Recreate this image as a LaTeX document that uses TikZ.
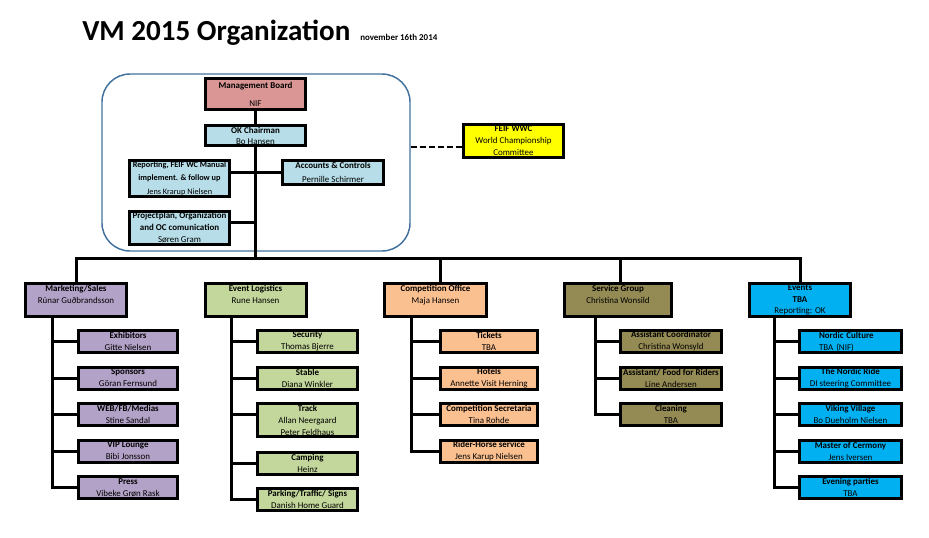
\documentclass[tikz,border=0pt]{standalone}
\usepackage{fontspec}
\setmainfont{Carlito}
\usetikzlibrary{backgrounds,calc}
\definecolor{mbred}{HTML}{D99694}
\definecolor{ltblue}{HTML}{B7DEE8}
\definecolor{mktc}{HTML}{B3A2C7}
\definecolor{evlc}{HTML}{C3D69B}
\definecolor{cmpc}{HTML}{FAC090}
\definecolor{srvc}{HTML}{948A54}
\definecolor{evtc}{HTML}{00B0F0}
\definecolor{grpline}{HTML}{41719C}
\definecolor{feifc}{HTML}{FFFF00}
\begin{document}
\begin{tikzpicture}[x=0.75pt,y=-0.75pt,
  bx/.style 2 args={draw=black, line width=2.25pt, inner sep=0pt, align=center,
    minimum width=#1*0.75pt, minimum height=#2*0.75pt,
    font=\fontsize{6.7}{9}\selectfont},
  conn/.style={draw=black, line width=2.25pt},
  dashconn/.style={draw=black, line width=1.5pt, dash pattern=on 4.5pt off 2.25pt},
  grpbox/.style={draw=grpline, line width=1.1pt, rounded corners=21pt, inner sep=0pt,
    minimum width=308*0.75pt, minimum height=177*0.75pt}]
\useasboundingbox (0,0) rectangle (929,537);

% title
\node[anchor=base west, inner sep=0pt, font=\fontsize{21.8}{26}\selectfont\bfseries] (title) at (82,40) {VM 2015 Organization};
\node[anchor=base west, inner sep=0pt, font=\fontsize{6.7}{8}\selectfont\bfseries] (date) at (360,40) {november 16th 2014};

% top group
\node[bx={100}{31}, fill=mbred, font=\fontsize{6.7}{13.5}\selectfont] (mb) at (255.5,94) {\textbf{Management Board}\\NIF};
\node[bx={100}{20}, fill=ltblue, font=\fontsize{6.7}{8.25}\selectfont] (ok) at (255.5,135.5) {\textbf{OK Chairman}\\Bo Hansen};
\node[bx={100}{36}, fill=ltblue, font=\fontsize{6.2}{10.1}\selectfont] (rep) at (179.5,178.5) {\textbf{Reporting, FEIF WC Manual}\\\textbf{implement. \& follow up}\\Jens Krarup Nielsen};
\node[bx={101}{24}, fill=ltblue, font=\fontsize{6.7}{10.5}\selectfont] (acc) at (333,172.5) {\textbf{Accounts \& Controls}\\Pernille Schirmer};
\node[bx={100}{33}, fill=ltblue] (proj) at (179.5,228) {\textbf{Projectplan, Organization}\\\textbf{and OC comunication}\\Søren Gram};
\node[bx={100}{33}, fill=feifc] (feif) at (513.5,141) {\textbf{FEIF WWC}\\World Championship\\Committee};

% heads
\node[bx={101}{33}, fill=mktc] (mkt) at (76,300) {\textbf{Marketing/Sales}\\Rúnar Guðbrandsson\\\mbox{}};
\node[bx={101}{33}, fill=evlc] (evl) at (255.5,300) {\textbf{Event Logistics}\\Rune Hansen\\\mbox{}};
\node[bx={102}{33}, fill=cmpc] (cmp) at (435.5,300) {\textbf{Competition Office}\\Maja Hansen\\\mbox{}};
\node[bx={107}{33}, fill=srvc] (srv) at (618,300) {\textbf{Service Group}\\Christina Wonsild\\\mbox{}};
\node[bx={101}{33}, fill=evtc, font=\fontsize{6.7}{8.6}\selectfont] (evt) at (800,300) {\textbf{Events}\\\textbf{TBA}\\Reporting: OK};

% marketing subs
\node[bx={99}{22}, fill=mktc] (m1) at (128,341.5) {\textbf{Exhibitors}\\Gitte Nielsen};
\node[bx={99}{22}, fill=mktc] (m2) at (128,378) {\textbf{Sponsors}\\Göran Fernsund};
\node[bx={99}{22}, fill=mktc] (m3) at (128,414.5) {\textbf{WEB/FB/Medias}\\Stine Sandal};
\node[bx={99}{22}, fill=mktc] (m4) at (128,451) {\textbf{VIP Lounge}\\Bibi Jonsson};
\node[bx={99}{22}, fill=mktc] (m5) at (128,487.5) {\textbf{Press}\\Vibeke Grøn Rask};

% event logistics subs
\node[bx={100}{22}, fill=evlc] (l1) at (307.5,341.5) {\textbf{Security}\\Thomas Bjerre};
\node[bx={100}{22}, fill=evlc] (l2) at (307.5,378) {\textbf{Stable}\\Diana Winkler};
\node[bx={100}{33}, fill=evlc] (l3) at (307.5,420) {\textbf{Track}\\Allan Neergaard\\Peter Feldhaus};
\node[bx={100}{22}, fill=evlc] (l4) at (307.5,463.5) {\textbf{Camping}\\Heinz};
\node[bx={100}{22}, fill=evlc] (l5) at (307.5,499.5) {\textbf{Parking/Traffic/ Signs}\\Danish Home Guard};

% competition office subs
\node[bx={97}{22}, fill=cmpc] (c1) at (489,341.5) {\textbf{Tickets}\\TBA};
\node[bx={97}{22}, fill=cmpc] (c2) at (489,378) {\textbf{Hotels}\\Annette Visit Herning};
\node[bx={97}{22}, fill=cmpc] (c3) at (489,414.5) {\textbf{Competition Secretaria}\\Tina Rohde};
\node[bx={97}{22}, fill=cmpc] (c4) at (489,451) {\textbf{Rider-Horse service}\\Jens Karup Nielsen};

% service group subs
\node[bx={101}{22}, fill=srvc] (s1) at (671,341.5) {\textbf{Assistant Coordinator}\\Christina Wonsyld};
\node[bx={101}{22}, fill=srvc] (s2) at (671,378) {\textbf{Assistant/ Food for Riders}\\Line Andersen};
\node[bx={101}{22}, fill=srvc] (s3) at (671,414.5) {\textbf{Cleaning}\\TBA};

% events subs
\node[bx={102}{22}, fill=evtc, align=left, text width=47.25pt] (e1) at (850.5,341.5) {\textbf{Nordic Culture}\\TBA (NIF)};
\node[bx={102}{22}, fill=evtc] (e2) at (850.5,378) {\textbf{The Nordic Ride}\\DI steering Committee};
\node[bx={102}{22}, fill=evtc] (e3) at (850.5,414.5) {\textbf{Viking Village}\\Bo Dueholm Nielsen};
\node[bx={102}{22}, fill=evtc] (e4) at (850.5,451) {\textbf{Master of Cermony}\\Jens Iversen};
\node[bx={102}{22}, fill=evtc] (e5) at (850.5,487.5) {\textbf{Evening parties}\\TBA};

\begin{pgfonlayer}{background}
  \node[grpbox] (grp) at (256,162.5) {};
  % top trunk
  \draw[conn] (mb.south) -- (ok.south);
  \coordinate (bus) at (799,258);
  \draw[conn] (ok.south) -- (ok.south |- bus);
  \draw[conn] (mkt.north) |- (bus) -| (evt.north);
  \coordinate (dc) at (440,258);
  \coordinate (ds) at (620,258);
  \draw[conn] (dc) -- (dc |- cmp.north);
  \draw[conn] (ds) -- (ds |- srv.north);
  % side connectors in group
  \draw[conn] (acc.west) -- (acc.west -| rep.east);
  \coordinate (pj) at ($(proj.east)+(0,-6)$);
  \draw[conn] (pj) -- (pj -| ok.south);
  \coordinate (d1) at ($(grp.east)+(0,-15.5)$);
  \draw[dashconn] (d1) -- (d1 -| feif.west);
  % marketing
  \coordinate (mx) at (52,0);
  \draw[conn] (mx |- mkt.south) |- (m5.west);
  \foreach \n in {m1,m2,m3,m4} \draw[conn] (mx |- \n.west) -- (\n.west);
  % event logistics
  \coordinate (lx) at (231,0);
  \draw[conn] (lx |- evl.south) |- (l5.west);
  \foreach \n in {l1,l2,l4} \draw[conn] (lx |- \n.west) -- (\n.west);
  \coordinate (trk) at ($(l3.west)+(0,-6)$);
  \draw[conn] (lx |- trk) -- (trk);
  % competition office
  \coordinate (cx) at (411,0);
  \draw[conn] (cx |- cmp.south) |- (c4.west);
  \foreach \n in {c1,c2,c3} \draw[conn] (cx |- \n.west) -- (\n.west);
  % service group
  \coordinate (sx) at (595,0);
  \draw[conn] (sx |- srv.south) |- (s3.west);
  \foreach \n in {s1,s2} \draw[conn] (sx |- \n.west) -- (\n.west);
  % events
  \coordinate (ex) at (774,0);
  \draw[conn] (ex |- evt.south) |- (e5.west);
  \foreach \n in {e1,e2,e3,e4} \draw[conn] (ex |- \n.west) -- (\n.west);
\end{pgfonlayer}
\end{tikzpicture}
\end{document}
